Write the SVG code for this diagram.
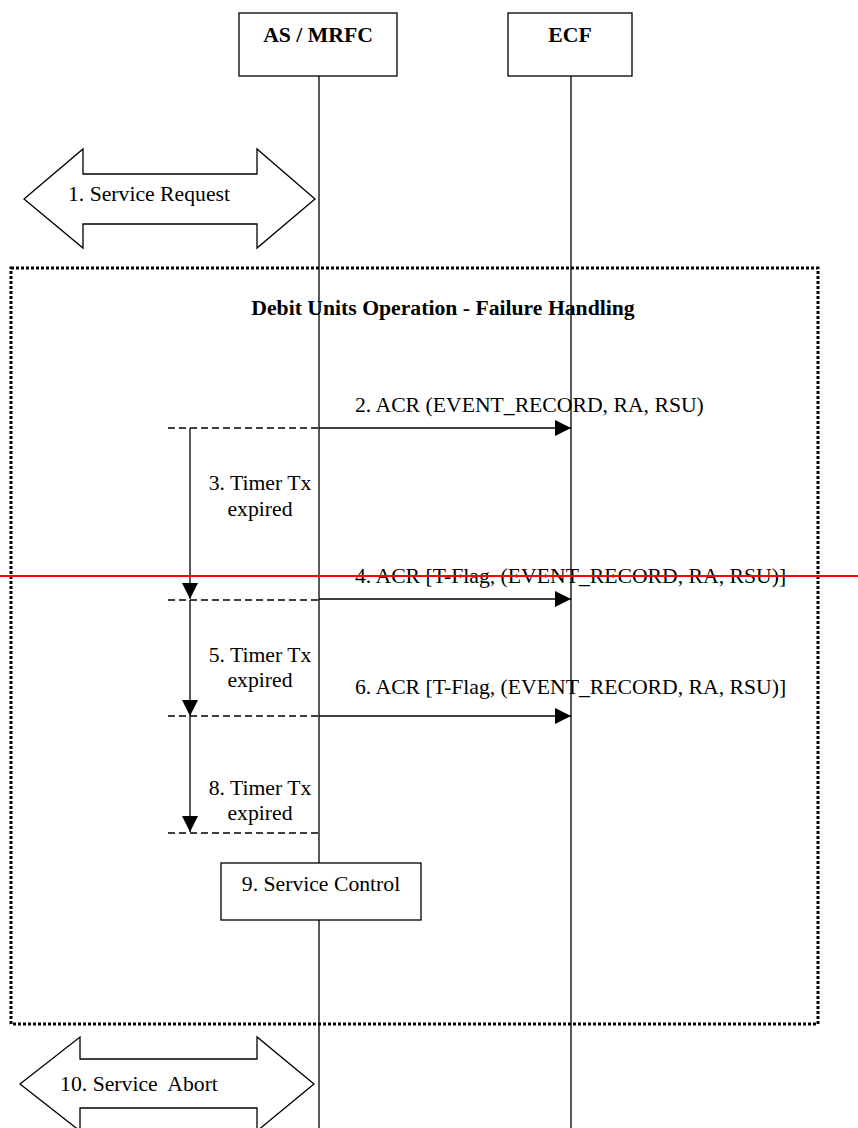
<svg xmlns="http://www.w3.org/2000/svg" width="858" height="1128" viewBox="0 0 858 1128">
<defs>
<style>
.t{font-family:"Liberation Serif","Times New Roman",serif;font-size:21.7px;fill:#000;white-space:pre}
.b{font-weight:bold}
.box{fill:#fff;stroke:#000;stroke-width:1.3}
.ln{stroke:#000;stroke-width:1.3;fill:none}
.dash{stroke:#000;stroke-width:1.3;stroke-dasharray:7 4;fill:none}
.frame{fill:none;stroke:#000;stroke-width:3;stroke-dasharray:3 2}
.hex{fill:#fff;stroke:#000;stroke-width:1.3}
</style>
<marker id="ah" markerWidth="16" markerHeight="16" viewBox="0 0 16 16" refX="16" refY="8" orient="auto" markerUnits="userSpaceOnUse">
<path d="M0,0 L16,8 L0,16 Z" fill="#000"/>
</marker>
</defs>
<rect width="858" height="1128" fill="#fff"/>

<g id="lifelines">
<line class="ln" x1="319" y1="76" x2="319" y2="1128"/>
<line class="ln" x1="571" y1="76" x2="571" y2="1128"/>
</g>

<g id="as_mrfc">
<rect class="box" x="239" y="13" width="158" height="63"/>
<text class="t b" x="318" y="42" text-anchor="middle">AS / MRFC</text>
</g>
<g id="ecf">
<rect class="box" x="508" y="13" width="124" height="63"/>
<text class="t b" x="570" y="42" text-anchor="middle">ECF</text>
</g>

<g id="service_request">
<path class="hex" d="M24,199 L83,149 L83,174 L257,174 L257,149 L315,199 L257,248 L257,224 L83,224 L83,248 Z"/>
<text class="t" x="149" y="201" text-anchor="middle">1. Service Request</text>
</g>

<g id="frame">
<rect class="frame" x="11" y="268" width="807" height="756"/>
<text class="t b" x="443" y="315" text-anchor="middle">Debit Units Operation - Failure Handling</text>
</g>

<g id="connectors">
<line class="ln" x1="319" y1="428" x2="571" y2="428" marker-end="url(#ah)"/>
<text class="t" x="355" y="412">2. ACR (EVENT_RECORD, RA, RSU)</text>
<line class="dash" x1="168" y1="428" x2="319" y2="428"/>
<line class="ln" x1="190" y1="428" x2="190" y2="599" marker-end="url(#ah)"/>
<text class="t" x="260" y="490" text-anchor="middle">3. Timer Tx</text>
<text class="t" x="260" y="516" text-anchor="middle">expired</text>

<line class="ln" x1="319" y1="599" x2="571" y2="599" marker-end="url(#ah)"/>
<text class="t" x="355" y="583">4. ACR [T-Flag, (EVENT_RECORD, RA, RSU)]</text>
<line class="dash" x1="168" y1="600" x2="319" y2="600"/>
<line class="ln" x1="190" y1="600" x2="190" y2="716" marker-end="url(#ah)"/>
<text class="t" x="260" y="662" text-anchor="middle">5. Timer Tx</text>
<text class="t" x="260" y="687" text-anchor="middle">expired</text>

<line class="ln" x1="319" y1="716" x2="571" y2="716" marker-end="url(#ah)"/>
<text class="t" x="355" y="694">6. ACR [T-Flag, (EVENT_RECORD, RA, RSU)]</text>
<line class="dash" x1="168" y1="716" x2="319" y2="716"/>
<line class="ln" x1="190" y1="716" x2="190" y2="832" marker-end="url(#ah)"/>
<text class="t" x="260" y="795" text-anchor="middle">8. Timer Tx</text>
<text class="t" x="260" y="820" text-anchor="middle">expired</text>
<line class="dash" x1="168" y1="833" x2="319" y2="833"/>
</g>

<line id="red_line" x1="0" y1="576" x2="858" y2="576" stroke="#f00" stroke-width="2"/>

<g id="service_control">
<rect class="box" x="221" y="863" width="200" height="57"/>
<text class="t" x="321" y="891" text-anchor="middle">9. Service Control</text>
</g>

<g id="service_abort">
<path class="hex" d="M20,1084 L80,1037 L80,1059 L257,1059 L257,1037 L314,1084 L257,1131 L257,1108 L80,1108 L80,1131 Z"/>
<text class="t" x="139" y="1091" text-anchor="middle">10. Service&#160; Abort</text>
</g>
</svg>
